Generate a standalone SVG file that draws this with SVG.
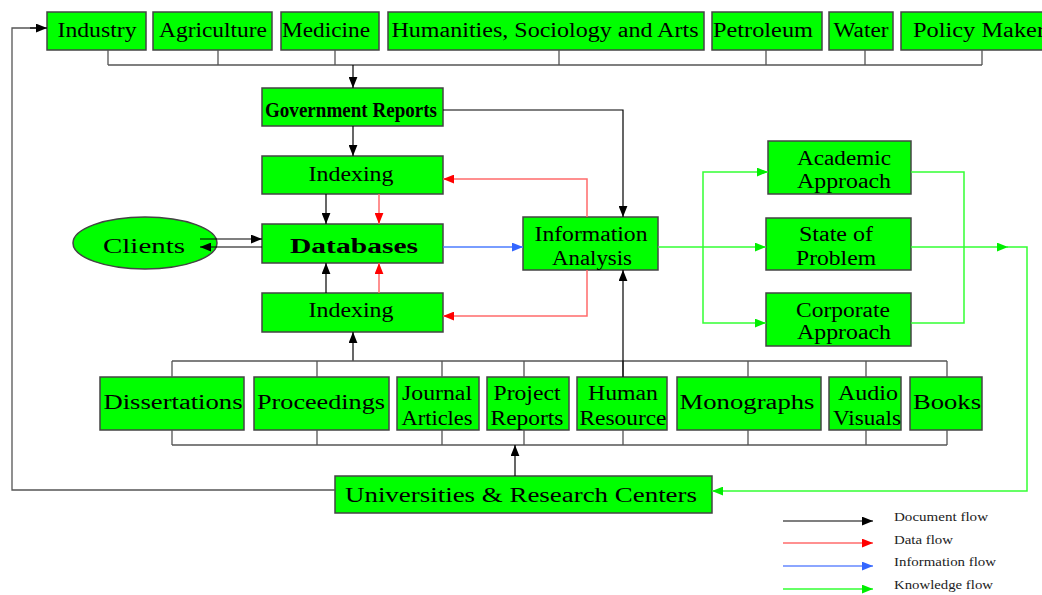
<svg xmlns="http://www.w3.org/2000/svg" width="1042" height="595" viewBox="0 0 1042 595">
<style>
.n{fill:#00ff00;stroke:#444;stroke-width:1.5}
.t{font-family:"Liberation Serif","Times New Roman",serif;font-size:20px;fill:#000;text-anchor:middle}
.b{fill:none;stroke:#555;stroke-width:1.3}
.k{fill:none;stroke:#000;stroke-width:1.2}
.r{fill:none;stroke:#ff6b6b;stroke-width:1.5}
.bl{fill:none;stroke:#4d7cff;stroke-width:1.5}
.g{fill:none;stroke:#33ff33;stroke-width:1.5}
.lg{font-family:"Liberation Serif","Times New Roman",serif;font-size:12px;fill:#222}
</style>
<defs>
<marker id="ak" viewBox="0 0 10 8" refX="10" refY="4" markerWidth="11" markerHeight="9" markerUnits="userSpaceOnUse" orient="auto"><path d="M0,0L10,4L0,8z" fill="#000"/></marker>
<marker id="ar" viewBox="0 0 10 8" refX="10" refY="4" markerWidth="11" markerHeight="9" markerUnits="userSpaceOnUse" orient="auto"><path d="M0,0L10,4L0,8z" fill="#ff0000"/></marker>
<marker id="ab" viewBox="0 0 10 8" refX="10" refY="4" markerWidth="11" markerHeight="9" markerUnits="userSpaceOnUse" orient="auto"><path d="M0,0L10,4L0,8z" fill="#3366ff"/></marker>
<marker id="ag" viewBox="0 0 10 8" refX="10" refY="4" markerWidth="11" markerHeight="9" markerUnits="userSpaceOnUse" orient="auto"><path d="M0,0L10,4L0,8z" fill="#00ee00"/></marker>
</defs>
<rect width="1042" height="595" fill="#fff"/>
<g id="industry"><rect class="n" x="47" y="12" width="99" height="38"/><text class="t" x="97" y="37" textLength="79" lengthAdjust="spacingAndGlyphs">Industry</text></g>
<g id="agriculture"><rect class="n" x="153" y="12" width="119" height="38"/><text class="t" x="213" y="37" textLength="108" lengthAdjust="spacingAndGlyphs">Agriculture</text></g>
<g id="medicine"><rect class="n" x="281" y="12" width="98" height="38"/><text class="t" x="326" y="37" textLength="88" lengthAdjust="spacingAndGlyphs">Medicine</text></g>
<g id="humanities"><rect class="n" x="388" y="12" width="316" height="38"/><text class="t" x="545" y="37" textLength="307" lengthAdjust="spacingAndGlyphs">Humanities, Sociology and Arts</text></g>
<g id="petroleum"><rect class="n" x="712" y="12" width="110" height="38"/><text class="t" x="763" y="37" textLength="100" lengthAdjust="spacingAndGlyphs">Petroleum</text></g>
<g id="water"><rect class="n" x="829" y="12" width="64" height="38"/><text class="t" x="861" y="37" textLength="55" lengthAdjust="spacingAndGlyphs">Water</text></g>
<g id="policy"><rect class="n" x="901" y="12" width="146" height="38"/><text class="t" x="979" y="37" textLength="132" lengthAdjust="spacingAndGlyphs">Policy Maker</text></g>
<g id="govreports"><rect class="n" x="262" y="88" width="181" height="38"/><text class="t" x="351" y="117" font-size="15" font-weight="bold" textLength="172" lengthAdjust="spacingAndGlyphs">Government Reports</text></g>
<g id="indexing1"><rect class="n" x="262" y="156" width="181" height="38"/><text class="t" x="351" y="181" textLength="85" lengthAdjust="spacingAndGlyphs">Indexing</text></g>
<g id="databases"><rect class="n" x="262" y="224" width="181" height="39"/><text class="t" x="354" y="253" font-size="23" font-weight="bold" textLength="128" lengthAdjust="spacingAndGlyphs">Databases</text></g>
<g id="clients"><ellipse class="n" cx="145" cy="243" rx="72" ry="26" stroke-width="1.2"/><text class="t" x="144" y="253" font-size="24" textLength="82" lengthAdjust="spacingAndGlyphs">Clients</text></g>
<g id="indexing2"><rect class="n" x="262" y="293" width="181" height="39"/><text class="t" x="351" y="317" textLength="85" lengthAdjust="spacingAndGlyphs">Indexing</text></g>
<g id="infoanalysis"><rect class="n" x="523" y="217" width="135" height="53"/><text class="t" x="591" y="241" textLength="113" lengthAdjust="spacingAndGlyphs">Information</text><text class="t" x="592" y="265" textLength="80" lengthAdjust="spacingAndGlyphs">Analysis</text></g>
<g id="academic"><rect class="n" x="768" y="141" width="143" height="53"/><text class="t" x="844" y="165" textLength="94" lengthAdjust="spacingAndGlyphs">Academic</text><text class="t" x="844" y="188" textLength="94" lengthAdjust="spacingAndGlyphs">Approach</text></g>
<g id="stateofproblem"><rect class="n" x="766" y="218" width="145" height="52"/><text class="t" x="836" y="241" textLength="74" lengthAdjust="spacingAndGlyphs">State of</text><text class="t" x="836" y="265" textLength="80" lengthAdjust="spacingAndGlyphs">Problem</text></g>
<g id="corporate"><rect class="n" x="766" y="293" width="145" height="53"/><text class="t" x="843" y="317" textLength="94" lengthAdjust="spacingAndGlyphs">Corporate</text><text class="t" x="844" y="339" textLength="94" lengthAdjust="spacingAndGlyphs">Approach</text></g>
<g id="dissertations"><rect class="n" x="100" y="377" width="144" height="53"/><text class="t" x="173" y="409" font-size="22" textLength="139" lengthAdjust="spacingAndGlyphs">Dissertations</text></g>
<g id="proceedings"><rect class="n" x="254" y="377" width="135" height="53"/><text class="t" x="321" y="409" font-size="22" textLength="128" lengthAdjust="spacingAndGlyphs">Proceedings</text></g>
<g id="journal"><rect class="n" x="397" y="377" width="82" height="53"/><text class="t" x="437" y="400" textLength="70" lengthAdjust="spacingAndGlyphs">Journal</text><text class="t" x="437" y="425" textLength="71" lengthAdjust="spacingAndGlyphs">Articles</text></g>
<g id="project"><rect class="n" x="487" y="377" width="82" height="53"/><text class="t" x="527" y="400" textLength="67" lengthAdjust="spacingAndGlyphs">Project</text><text class="t" x="527" y="425" textLength="73" lengthAdjust="spacingAndGlyphs">Reports</text></g>
<g id="human"><rect class="n" x="577" y="377" width="90" height="53"/><text class="t" x="623" y="400" textLength="70" lengthAdjust="spacingAndGlyphs">Human</text><text class="t" x="623" y="425" textLength="87" lengthAdjust="spacingAndGlyphs">Resource</text></g>
<g id="monographs"><rect class="n" x="677" y="377" width="144" height="53"/><text class="t" x="747" y="409" font-size="22" textLength="135" lengthAdjust="spacingAndGlyphs">Monographs</text></g>
<g id="audio"><rect class="n" x="829" y="377" width="72" height="53"/><text class="t" x="868" y="400" textLength="60" lengthAdjust="spacingAndGlyphs">Audio</text><text class="t" x="867" y="425" textLength="68" lengthAdjust="spacingAndGlyphs">Visuals</text></g>
<g id="books"><rect class="n" x="910" y="377" width="72" height="53"/><text class="t" x="947" y="409" font-size="22" textLength="68" lengthAdjust="spacingAndGlyphs">Books</text></g>
<g id="universities"><rect class="n" x="335" y="476" width="377" height="37"/><text class="t" x="521" y="502" font-size="22" textLength="352" lengthAdjust="spacingAndGlyphs">Universities &amp; Research Centers</text></g>
<g id="connectors">
<path class="b" d="M108,50V65M218,50V65M335,50V65M559,50V65M766,50V65M865,50V65M982,50V65M108,65H982"/>
<path class="k" d="M353,65V88" marker-end="url(#ak)"/>
<path class="k" d="M353,126V156" marker-end="url(#ak)"/>
<path class="k" d="M443,110H623V217" marker-end="url(#ak)"/>
<path class="k" d="M326,194V224" marker-end="url(#ak)"/>
<path class="r" d="M379,194V224" marker-end="url(#ar)"/>
<path class="k" d="M326,293V263" marker-end="url(#ak)"/>
<path class="r" d="M379,293V263" marker-end="url(#ar)"/>
<path class="k" d="M353,361V332" marker-end="url(#ak)"/>
<path class="k" d="M200,239H262" marker-end="url(#ak)"/>
<path class="k" d="M262,247H200" marker-end="url(#ak)"/>
<path class="r" d="M587,217V179H443" marker-end="url(#ar)"/>
<path class="r" d="M587,270V316H443" marker-end="url(#ar)"/>
<path class="bl" d="M443,247H523" marker-end="url(#ab)"/>
<path class="g" d="M658,247H766" marker-end="url(#ag)"/>
<path class="g" d="M703,247V172H768" marker-end="url(#ag)"/>
<path class="g" d="M703,247V323H766" marker-end="url(#ag)"/>
<path class="g" d="M911,172H964V323H911"/>
<path class="g" d="M911,247H1008" marker-end="url(#ag)"/>
<path class="g" d="M1006,247H1027V491H712" marker-end="url(#ag)"/>
<path class="b" d="M172,361H947M172,361V377M317,361V377M442,361V377M524,361V377M623,361V377M748,361V377M866,361V377M947,361V377"/>
<path class="k" d="M623,377V270" marker-end="url(#ak)"/>
<path class="b" d="M172,445H947M172,430V445M317,430V445M442,430V445M524,430V445M623,430V445M748,430V445M866,430V445M947,430V445"/>
<path class="k" d="M515,476V445" marker-end="url(#ak)"/>
<path class="b" d="M335,490H12V28H36"/>
<path class="k" d="M30,28H47" marker-end="url(#ak)"/>
</g>
<g id="legend">
<path d="M783,521H873" stroke="#000" stroke-width="1.2" marker-end="url(#ak)"/>
<path d="M783,543H873" stroke="#ff6b6b" stroke-width="1.5" marker-end="url(#ar)"/>
<path d="M783,566H873" stroke="#6688ff" stroke-width="1.5" marker-end="url(#ab)"/>
<path d="M783,589H873" stroke="#33ff33" stroke-width="1.5" marker-end="url(#ag)"/>
<text class="lg" x="894" y="521" textLength="94" lengthAdjust="spacingAndGlyphs">Document flow</text>
<text class="lg" x="894" y="544" textLength="59" lengthAdjust="spacingAndGlyphs">Data flow</text>
<text class="lg" x="894" y="566" textLength="102" lengthAdjust="spacingAndGlyphs">Information flow</text>
<text class="lg" x="894" y="589" textLength="99" lengthAdjust="spacingAndGlyphs">Knowledge flow</text>
</g>
</svg>
